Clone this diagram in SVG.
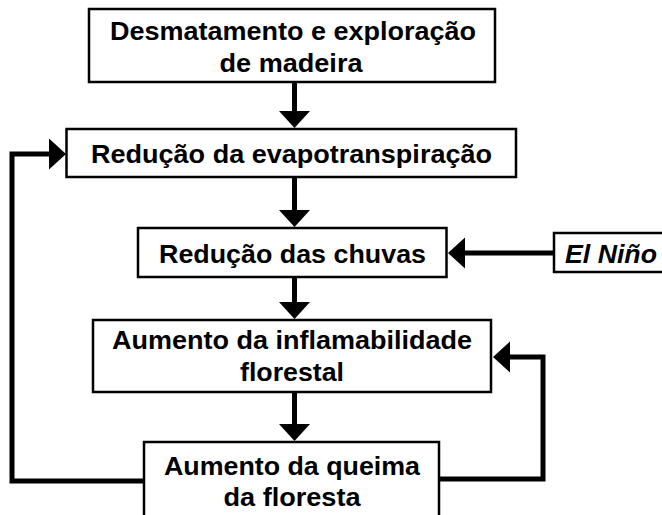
<svg xmlns="http://www.w3.org/2000/svg" width="662" height="515" viewBox="0 0 662 515">
<style>
.box{fill:#fff;stroke:#000;stroke-width:2.5}
.t{font-family:"Liberation Sans",Arial,sans-serif;font-weight:bold;font-size:25.5px;fill:#000;text-anchor:middle}
.it{font-style:italic}
.c{fill:none;stroke:#000;stroke-width:5;stroke-linejoin:miter;marker-end:url(#ah)}
</style>
<defs>
<marker id="ah" markerUnits="userSpaceOnUse" markerWidth="17" markerHeight="31" refX="8" refY="15.5" orient="auto" overflow="visible">
<path d="M0,0 L17,15.5 L0,31 Z" fill="#000"/>
</marker>
</defs>
<rect width="662" height="515" fill="#fff"/>
<g id="connectors">
<path class="c" d="M294.5,82 V119"/>
<path class="c" d="M294.5,177 V218"/>
<path class="c" d="M294.5,277 V310"/>
<path class="c" d="M294.5,392 V432"/>
<path class="c" d="M554,253 H457"/>
<path class="c" d="M144,481 H12 V154 H57"/>
<path class="c" d="M439,479 H543 V357 H502"/>
</g>
<g id="n1">
<rect class="box" x="89" y="9" width="406" height="73"/>
<text class="t" x="293" y="39.5" textLength="366" lengthAdjust="spacingAndGlyphs">Desmatamento e exploração</text>
<text class="t" x="291" y="72" textLength="143" lengthAdjust="spacingAndGlyphs">de madeira</text>
</g>
<g id="n2">
<rect class="box" x="66.5" y="129" width="449.5" height="48"/>
<text class="t" x="291.5" y="163" textLength="401" lengthAdjust="spacingAndGlyphs">Redução da evapotranspiração</text>
</g>
<g id="n3">
<rect class="box" x="138" y="228" width="308.5" height="49"/>
<text class="t" x="292.5" y="263" textLength="267" lengthAdjust="spacingAndGlyphs">Redução das chuvas</text>
</g>
<g id="n_elnino">
<rect class="box" x="554" y="233" width="110" height="39"/>
<text class="t it" x="611" y="263" textLength="92" lengthAdjust="spacingAndGlyphs">El Niño</text>
</g>
<g id="n4">
<rect class="box" x="93" y="320" width="398" height="72"/>
<text class="t" x="292" y="349" textLength="360" lengthAdjust="spacingAndGlyphs">Aumento da inflamabilidade</text>
<text class="t" x="292" y="381" textLength="104" lengthAdjust="spacingAndGlyphs">florestal</text>
</g>
<g id="n5">
<rect class="box" x="144" y="442" width="295" height="80"/>
<text class="t" x="292" y="475" textLength="256" lengthAdjust="spacingAndGlyphs">Aumento da queima</text>
<text class="t" x="292" y="506" textLength="137" lengthAdjust="spacingAndGlyphs">da floresta</text>
</g>
</svg>
